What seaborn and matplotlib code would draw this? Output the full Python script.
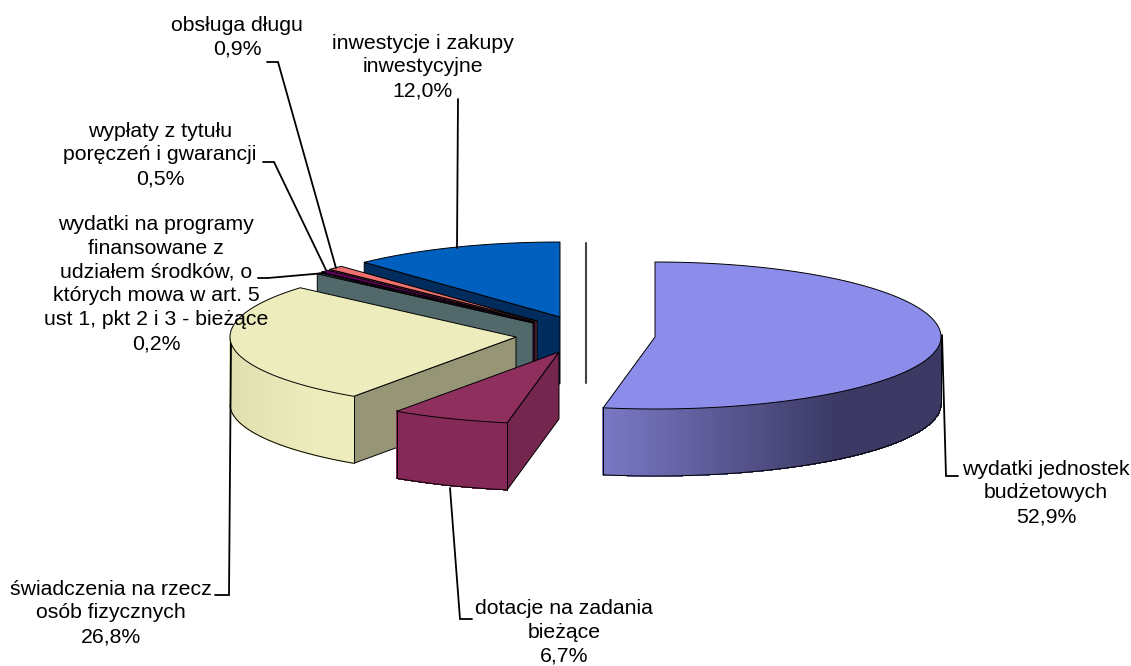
import numpy as np
import matplotlib
matplotlib.use("Agg")
import matplotlib.pyplot as plt
from matplotlib.colors import to_rgb
import seaborn as sns

labels = ["wydatki jednostek\nbudżetowych", "dotacje na zadania\nbieżące",
          "świadczenia na rzecz\nosób fizycznych",
          "wydatki na programy\nfinansowane z\nudziałem środków, o\nktórych mowa w art. 5\nust 1, pkt 2 i 3 - bieżące",
          "wypłaty z tytułu\nporęczeń i gwarancji", "obsługa długu",
          "inwestycje i zakupy\ninwestycyjne"]
values = [52.9, 6.7, 26.8, 0.2, 0.5, 0.9, 12.0]

# kolory: wierzch, sciana boczna (lewa, prawa), sciana ciecia
top_cols = ["#8C8CEB", "#8E2F5E", "#ECECBC", "#BFE3E3", "#6A0068", "#F07070", "#0060C0"]
wall_left = ["#7A78C4", "#852A58", "#DFDFB0", "#52696B", "#4A0048", "#A85050", "#002C5E"]
wall_right = ["#3C3A65", "#852A58", "#ECECBC", "#52696B", "#4A0048", "#A85050", "#002C5E"]
cut_cols = ["#3C3A65", "#74264F", "#969677", "#52696B", "#3A0038", "#803C3C", "#002C5E"]

# srodki wycinkow po rozsunieciu (piksele)
centers = [(655, 337), (559, 352), (516, 337), (533, 323), (535, 322), (537, 321), (560, 317)]
RX, RY_BACK, RY_FRONT, DEPTH = 286, 75, 72, 67

label_pos = [(1046, 493), (564, 632), (111, 613), (156, 284), (160, 155), (237, 37), (423, 67)]
leaders = [[(942, 335), (946, 476), (958, 476)],
           [(450, 488), (460, 619), (472, 619)],
           [(231, 345), (229, 595), (215, 595)],
           [(325, 273), (268, 278), (258, 278)],
           [(326, 270), (274, 162), (263, 162)],
           [(336, 268), (278, 62), (267, 62)],
           [(457, 248), (458, 99)]]

sns.set_theme(style="white")
plt.rcParams["font.family"] = ["Liberation Sans", "DejaVu Sans"]

fig, ax = plt.subplots(figsize=(11.31, 6.66), dpi=100)
ax.set_position([0, 0, 1, 1])
ax.set_xlim(0, 1131)
ax.set_ylim(666, 0)
ax.axis("off")


def rim(center, theta):
    t = np.radians(theta)
    ry = np.where(np.cos(t) > 0, RY_BACK, RY_FRONT)
    return center[0] + RX * np.sin(t), center[1] - ry * np.cos(t)


edges = np.concatenate([[0], np.cumsum(values)]) / sum(values) * 360
# od tylu do przodu, zeby przednie zaslanialy tylne
order = [6, 5, 4, 3, 2, 1, 0]
for z, i in enumerate(order):
    c = centers[i]
    a, b = edges[i], edges[i + 1]
    th = np.linspace(a, b, 150)
    x, y = rim(c, th)

    # sciana ciecia
    if a > 180:
        xa, ya = rim(c, a)
        ax.fill([c[0], xa, xa, c[0]], [c[1], ya, ya + DEPTH, c[1] + DEPTH],
                facecolor=cut_cols[i], edgecolor="black", lw=0.7, zorder=z * 3 + 1)

    # sciana zewnetrzna z gradientem
    front = (th >= 90) & (th <= 270)
    if front.sum() > 1:
        xf, yf = x[front], y[front]
        left, right = np.array(to_rgb(wall_left[i])), np.array(to_rgb(wall_right[i]))
        span = xf.max() - xf.min()
        for k in range(len(xf) - 1):
            f = min(1, (0.5 * (xf[k] + xf[k + 1]) - xf.min()) / (span * 0.68))
            col = left + (right - left) * f
            ax.fill([xf[k], xf[k + 1], xf[k + 1], xf[k]],
                    [yf[k], yf[k + 1], yf[k + 1] + DEPTH, yf[k] + DEPTH],
                    facecolor=col, edgecolor=col, lw=0.5, antialiased=False, zorder=z * 3 + 1)
        ax.plot(xf, yf + DEPTH, color="black", lw=0.7, zorder=z * 3 + 2)
        ax.plot([xf[0], xf[0]], [yf[0], yf[0] + DEPTH], color="black", lw=0.7, zorder=z * 3 + 2)
        ax.plot([xf[-1], xf[-1]], [yf[-1], yf[-1] + DEPTH], color="black", lw=0.7, zorder=z * 3 + 2)

    # wierzch
    ax.fill(np.r_[c[0], x], np.r_[c[1], y], facecolor=top_cols[i], edgecolor="black",
            lw=0.7, zorder=z * 3 + 3)

# szara pionowa kreska za wycinkami
ax.plot([586, 586], [243, 383], color="#444444", lw=1.5, zorder=0)

for i, pts in enumerate(leaders):
    px, py = zip(*pts)
    ax.plot(px, py, color="black", lw=1.3, zorder=40, solid_joinstyle="miter")
    val = f"{values[i]:.1f}".replace(".", ",")
    ax.text(label_pos[i][0], label_pos[i][1], f"{labels[i]}\n{val}%", ha="center", va="center",
            fontsize=15.3, color="black", linespacing=1.33, zorder=50)

fig.savefig("out.png", dpi=100)
